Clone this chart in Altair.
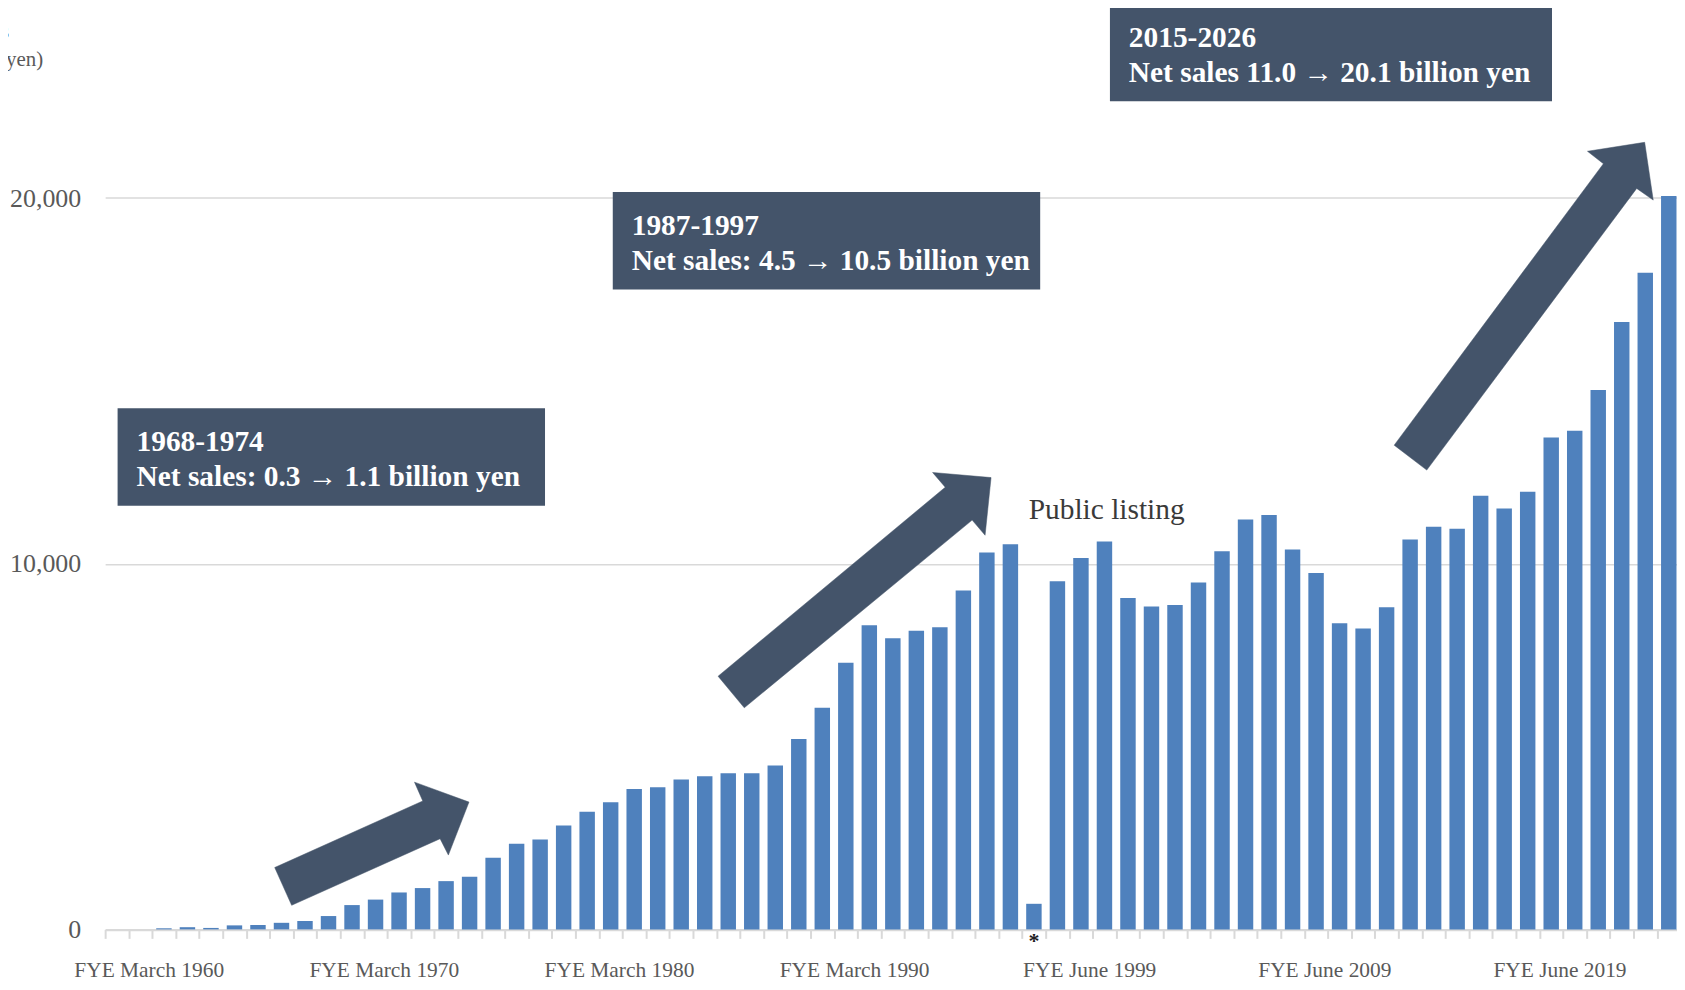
import altair as alt
import pandas as pd

# ------------------------------------------------------------------ data
bar_index = list(range(67))  # one bar per fiscal year, left to right
net_sales = [0, 0, 30, 60, 40, 110, 120, 180, 230, 365, 665, 815, 1010, 1130, 1320, 1440,
             1960, 2340, 2460, 2840, 3220, 3480, 3840, 3890, 4100, 4190, 4270, 4270, 4480, 5210,
             6060, 7290, 8320, 7960, 8170, 8260, 9270, 10310, 10530, 700, 9520, 10160, 10610,
             9060, 8830, 8870, 9490, 10340, 11210, 11330, 10390, 9750, 8370, 8230, 8810, 10660,
             11010, 10960, 11860, 11510, 11970, 13450, 13640, 14750, 16610, 17960, 20060]

tick_labels = ["FYE March 1960", "FYE March 1970", "FYE March 1980", "FYE March 1990",
               "FYE June 1999", "FYE June 2009", "FYE June 2019"]
tick_label_bars = [1, 11, 21, 31, 41, 51, 61]
y_tick_values = [0, 10000, 20000]

box_titles = ["1968-1974", "1987-1997", "2015-2026"]
box_lines = ["Net sales: 0.3 \u2192 1.1 billion yen",
             "Net sales: 4.5 \u2192 10.5 billion yen",
             "Net sales 11.0 \u2192 20.1 billion yen"]
listing_text = "Public listing"
short_period_bar = 39
y_title_lines = ["Sales", "(Million yen)"]

# ------------------------------------------------------------------ layout
STEP = 23.6             # px per bar slot
X0 = 105.5              # page x of the left edge of the axis
BASE = 931.0            # page y of zero
PX_PER_Y = 734.0 / 20000
PAD_L, PAD_T = X0 - 8, 13.5 - 8
X_DOMAIN = [-0.5, 66.35]
Y_DOMAIN = [0, 25000]
PLOT_W = (X_DOMAIN[1] - X_DOMAIN[0]) * STEP
PLOT_H = (Y_DOMAIN[1] - Y_DOMAIN[0]) * PX_PER_Y


def xd(px):
    return (px - X0) / STEP - 0.5


def yd(py):
    return (BASE - py) / PX_PER_Y


FONT = "Liberation Serif"
DARK = "#44546a"
BLUE = "#4f81bd"
GRID = "#d9d9d9"
LABEL = "#595959"

# annotation geometry (page px)
boxes_px = [(118, 408, 547, 505.7), (615, 191, 1044, 288.8), (1114, 2, 1557.7, 99.7)]
arrows_px = [
    [(292.7, 906.8), (275.7, 868.9), (424.3, 802.1), (416, 783.2), (470.7, 803.2), (450, 856.4), (441.7, 840)],
    [(747, 708.6), (720.7, 676.9), (948.7, 487.2), (936, 472.4), (994.7, 477.5), (988.7, 535.4), (975.7, 520.2)],
    [(1432, 470), (1399.3, 445), (1609.3, 162.5), (1593.3, 150), (1650.7, 141), (1659.3, 199), (1642.7, 187.3)],
]

# ------------------------------------------------------------------ tables
bars = pd.DataFrame({"idx": bar_index, "sales": net_sales})

arrow_rows = []
for a, pts in enumerate(arrows_px):
    for i, (px, py) in enumerate(pts + [pts[0]]):
        arrow_rows.append({"arrow": a, "vi": i, "x": xd(px), "y": yd(py)})
arrows = pd.DataFrame(arrow_rows)

box_df = pd.DataFrame([{"x": xd(l), "x2": xd(r), "y": yd(t), "y2": yd(b)} for (l, t, r, b) in boxes_px])
box_text = []
for (l, t, r, b), t1, t2 in zip(boxes_px, box_titles, box_lines):
    box_text.append({"x": xd(l + 19), "y": yd(t + 43), "text": t1})
    box_text.append({"x": xd(l + 19), "y": yd(t + 78), "text": t2})
box_text = pd.DataFrame(box_text)

listing = pd.DataFrame([{"x": xd(1032.5), "y": yd(519.3), "text": listing_text}])
star = pd.DataFrame([{"x": short_period_bar, "y": yd(950), "text": "*"}])
ytitle = pd.DataFrame([{"x": xd(-13), "y": yd(36), "text": y_title_lines[0]},
                       {"x": xd(-13), "y": yd(64.5), "text": y_title_lines[1]}])

label_values = [b + 0.5 for b in tick_label_bars]
expr = "''"
for v, t in reversed(list(zip(label_values, tick_labels))):
    expr = f"datum.value == {v} ? '{t}' : ({expr})"

xs = alt.Scale(domain=X_DOMAIN, nice=False, zero=False, padding=0)
ys = alt.Scale(domain=Y_DOMAIN, nice=False, padding=0)

x_axis = alt.Axis(values=[i - 0.5 for i in bar_index], labelExpr=expr, tickSize=9, tickColor=GRID,
                  tickWidth=2, domainColor=GRID, domainWidth=2, labelFont=FONT, labelFontSize=21.5,
                  labelColor=LABEL, labelPadding=21, labelOffset=-3.5, labelOverlap=False, labelFlush=False,
                  labelAngle=0, grid=False, title=None)
y_axis = alt.Axis(values=y_tick_values, labelExpr="format(datum.value, ',')", grid=True,
                  gridColor=GRID, gridWidth=1.5, domain=False, ticks=False, tickSize=0,
                  labelFont=FONT, labelFontSize=26, labelColor=LABEL, labelPadding=24.5, title=None)


def X(f="x:Q"):
    return alt.X(f, scale=xs, axis=x_axis)


def Y(f="y:Q"):
    return alt.Y(f, scale=ys, axis=y_axis)


bar_layer = alt.Chart(bars).mark_bar(width=15.5, color=BLUE).encode(x=X("idx:Q"), y=Y("sales:Q"))

arrow_layer = alt.Chart(arrows).mark_line(fill=DARK, stroke=DARK, strokeWidth=0.5).encode(
    x=X(), y=Y(), order="vi:Q", detail="arrow:N")

box_layer = alt.Chart(box_df).mark_rect(color=DARK).encode(
    x=X(), x2="x2:Q", y=Y(), y2="y2:Q")

box_text_layer = alt.Chart(box_text).mark_text(
    font=FONT, fontSize=29.5, fontWeight="bold", color="white", align="left", baseline="alphabetic"
).encode(x=X(), y=Y(), text="text:N")

listing_layer = alt.Chart(listing).mark_text(
    font=FONT, fontSize=29.5, color="#3a3a3a", align="left", baseline="alphabetic"
).encode(x=X(), y=Y(), text="text:N")

star_layer = alt.Chart(star).mark_text(
    font=FONT, fontSize=22, fontWeight="bold", color="#222222", align="center", baseline="alphabetic"
).encode(x=X(), y=Y(), text="text:N")

ytitle_layer = alt.Chart(ytitle).mark_text(
    font=FONT, fontSize=21, color=LABEL, align="center", baseline="alphabetic"
).encode(x=X(), y=Y(), text="text:N")

chart = alt.layer(
    bar_layer, arrow_layer, box_layer, box_text_layer, listing_layer, star_layer, ytitle_layer
).properties(
    width=PLOT_W, height=PLOT_H,
    padding={"left": PAD_L, "top": PAD_T, "right": 0, "bottom": 50},
    autosize=alt.AutoSizeParams(type="none"),
    background="white",
).configure_view(stroke=None)

chart.save("out.html", embed_options={"renderer": "svg", "actions": False})
